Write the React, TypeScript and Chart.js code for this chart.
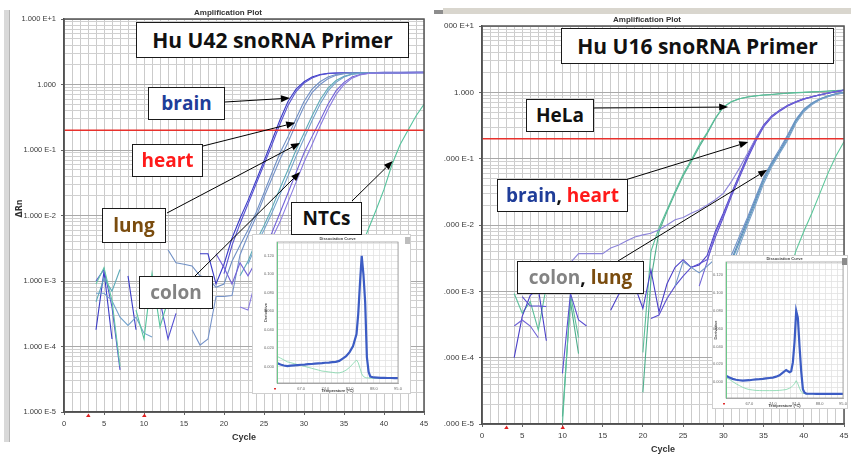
import React, { useEffect, useRef } from 'react';
import { Chart, registerables } from 'chart.js';

Chart.register(...registerables);
Chart.defaults.font.family = '"Liberation Sans", Arial, sans-serif';

const N = null;

// ---------- cycles & axis labels ----------
const cycles = [1,2,3,4,5,6,7,8,9,10,11,12,13,14,15,16,17,18,19,20,21,22,23,24,25,26,27,28,29,30,31,32,33,34,35,36,37,38,39,40,41,42,43,44,45];
const xTickLabels = [0,5,10,15,20,25,30,35,40,45];
const yDecades = [1e-5,1e-4,1e-3,1e-2,1e-1,1,10];
const yDecadeLabels = ['1.000 E-5','1.000 E-4','1.000 E-3','1.000 E-2','1.000 E-1','1.000','1.000 E+1'];
const logMultipliers = [1,2,3,4,5,6,7,8,9];
const baselineCycles = [3, 10];

// ---------- Hu U42 snoRNA primer (left) ----------
const u42Threshold = 0.2;
const u42Brain1 = [N,N,N,0.00018,0.0014,0.00013,N,0.0012,0.00018,N,N,N,N,N,N,N,0.0026,0.0026,0.0009,0.0018,0.0045,0.009,0.017,0.034,0.068,0.14,0.29,0.55,0.85,1.1,1.3,1.42,1.48,1.5,1.51,1.51,1.52,1.52,1.52,1.53,1.53,1.53,1.53,1.53,1.54];
const u42Brain2 = [N,N,N,0.001,0.0015,0.0004,0.000044,N,N,N,N,0.0005,0.00013,0.00032,N,N,N,N,N,0.0013,0.0035,0.0075,0.015,0.03,0.06,0.12,0.25,0.48,0.78,1.05,1.26,1.4,1.47,1.49,1.5,1.5,1.51,1.51,1.51,1.52,1.52,1.52,1.52,1.53,1.53];
const u42Heart1 = [N,N,N,N,N,N,N,N,N,N,N,N,0.003,0.0019,0.0018,0.0017,0.0012,0.0011,0.0008,0.0009,0.002,0.0035,0.006,0.011,0.022,0.045,0.09,0.16,0.3,0.55,0.85,1.1,1.3,1.42,1.48,1.5,1.5,1.51,1.51,1.52,1.52,1.52,1.53,1.53,1.53];
const u42Heart2 = [N,N,N,N,N,N,N,N,N,N,N,N,N,N,N,0.00018,0.000105,0.00013,0.00058,0.00058,0.0006,0.0025,0.005,0.0095,0.019,0.037,0.072,0.13,0.25,0.46,0.75,1.0,1.22,1.38,1.46,1.49,1.5,1.5,1.51,1.51,1.51,1.52,1.52,1.52,1.53];
const u42Lung1 = [N,N,N,0.00048,0.0011,0.0007,0.0015,N,N,N,N,N,N,N,N,N,N,N,N,N,N,0.0012,0.002,0.004,0.007,0.013,0.026,0.05,0.1,0.18,0.33,0.58,0.88,1.15,1.33,1.44,1.49,1.5,1.5,1.5,1.51,1.51,1.51,1.52,1.52];
const u42Lung2 = [N,N,N,0.00065,0.00065,0.0005,0.00028,0.00021,0.00028,0.00016,0.00014,N,N,N,N,N,N,N,N,N,N,N,0.0018,0.0035,0.006,0.011,0.021,0.04,0.08,0.15,0.28,0.5,0.8,1.08,1.3,1.43,1.48,1.5,1.5,1.5,1.5,1.51,1.51,1.51,1.52];
const u42Colon1 = [N,N,N,N,N,N,N,N,N,N,N,N,N,N,N,N,N,N,0.0026,0.0016,0.0009,0.0019,0.0012,0.002,0.003,0.0055,0.011,0.022,0.045,0.09,0.16,0.28,0.5,0.8,1.08,1.3,1.42,1.48,1.5,1.5,1.5,1.5,1.51,1.51,1.51];
const u42Colon2 = [N,N,N,N,N,N,N,N,N,N,N,N,N,N,N,N,N,N,N,N,N,0.0004,0.00036,0.0011,0.0025,0.0045,0.008,0.016,0.032,0.065,0.12,0.23,0.42,0.7,1.0,1.25,1.4,1.47,1.49,1.5,1.5,1.5,1.5,1.51,1.51];
const u42Ntc1 = [N,N,N,N,N,N,N,N,0.00036,0.00013,0.0013,0.0002,0.0005,N,N,N,N,N,N,N,N,N,N,N,N,N,N,N,N,N,N,N,N,N,N,0.0015,0.003,0.006,0.012,0.025,0.06,0.12,0.2,0.33,0.5];
const u42Ntc2 = [N,N,N,0.0009,0.0016,0.0005,0.00005,N,N,N,N,N,N,N,N,N,N,N,N,N,N,N,N,N,N,N,N,N,N,N,N,N,N,N,N,N,N,N,N,N,N,N,N,N,N];

// ---------- Hu U16 snoRNA primer (right) ----------
const u16Threshold = 0.2;
const u16Hela1 = [N,N,N,N,N,N,N,N,N,0.000013,0.0007,0.000115,N,N,N,N,N,N,N,0.00003,0.0015,0.008,0.016,0.03,0.055,0.09,0.15,0.24,0.4,0.6,0.72,0.8,0.85,0.88,0.91,0.93,0.95,0.97,0.99,1.0,1.02,1.03,1.05,1.06,1.07];
const u16Hela2 = [N,N,N,0.00093,0.00047,0.0007,0.00026,0.0012,N,0.00001,0.0009,0.0002,N,N,N,N,N,N,N,0.00012,0.004,0.009,0.017,0.032,0.058,0.095,0.16,0.25,0.41,0.6,0.72,0.8,0.85,0.89,0.91,0.93,0.95,0.97,0.99,1.0,1.01,1.03,1.04,1.06,1.07];
const u16Brain1 = [N,N,N,0.0001,0.00042,0.00087,0.0011,0.00018,N,N,N,N,N,N,N,0.00052,0.0009,0.0012,0.0012,0.00055,0.0021,0.00049,0.0013,0.0023,0.003,0.0023,0.0025,0.0035,0.008,0.015,0.03,0.058,0.11,0.2,0.32,0.44,0.54,0.64,0.72,0.8,0.86,0.92,0.98,1.03,1.08];
const u16Brain2 = [N,N,N,N,N,N,N,N,N,N,0.0027,0.0037,0.0037,0.0037,0.0037,0.0045,0.005,0.0058,0.0066,0.0071,0.0075,0.0085,0.01,0.012,0.013,0.015,0.017,0.02,0.024,0.03,0.045,0.072,0.12,0.2,0.31,0.43,0.53,0.63,0.71,0.79,0.86,0.92,0.97,1.03,1.08];
const u16Heart1 = [N,N,N,N,0.00083,0.0006,0.0006,0.00059,N,0.000058,0.00093,0.00037,0.0003,N,N,N,N,N,N,N,0.00039,0.00044,0.00078,0.0012,0.0017,0.0023,0.0026,0.003,0.0065,0.013,0.027,0.052,0.1,0.18,0.3,0.42,0.52,0.62,0.71,0.79,0.85,0.91,0.97,1.02,1.07];
const u16Heart2 = [N,N,N,0.0003,0.00037,0.0003,0.0002,N,N,N,N,N,N,N,N,N,N,N,N,N,N,N,N,N,N,N,0.0012,0.0028,0.0075,0.014,0.029,0.055,0.105,0.19,0.31,0.43,0.53,0.63,0.72,0.8,0.86,0.92,0.97,1.03,1.08];
const u16Colon1 = [N,N,N,N,N,N,N,N,N,N,N,N,N,N,N,N,N,N,N,N,N,N,N,N,N,N,N,N,0.0012,0.0018,0.003,0.006,0.012,0.024,0.05,0.085,0.13,0.22,0.38,0.55,0.68,0.79,0.88,0.95,1.0];
const u16Colon2 = [N,N,N,N,N,N,N,N,N,N,N,N,N,N,N,N,N,N,N,N,N,N,N,0.0012,0.0028,0.0023,0.0019,0.0024,0.0031,0.0022,0.0035,0.0068,0.013,0.026,0.052,0.088,0.14,0.23,0.39,0.56,0.69,0.8,0.88,0.95,1.0];
const u16Lung1 = [N,N,N,N,N,N,N,N,N,N,N,N,N,N,N,N,N,N,N,N,N,N,N,N,N,N,N,N,N,0.0015,0.0028,0.0055,0.011,0.022,0.046,0.08,0.125,0.2,0.36,0.53,0.67,0.78,0.87,0.94,0.99];
const u16Lung2 = [N,N,N,N,N,N,N,N,N,N,N,N,N,N,N,N,N,N,N,N,N,N,N,N,N,N,N,N,N,N,0.0022,0.0048,0.01,0.02,0.042,0.075,0.12,0.19,0.34,0.51,0.65,0.77,0.86,0.93,0.98];
const u16Ntc = [N,N,N,N,N,N,N,N,N,N,N,N,N,N,N,N,N,N,N,N,N,N,N,N,N,N,N,N,N,N,N,N,N,N,N,N,N,0.0015,0.004,0.008,0.015,0.03,0.06,0.11,0.18];

// ---------- dissociation (melt) curves ----------
const meltTempsU42 = [60,61,62,63,64,65,66,67,68,69,70,71,72,73,74,75,76,77,78,79,80,81,82,83,83.5,84,84.5,85,85.5,86,86.5,87,88,89,90,91,92,93,94,95];
const meltU42Sample = [0.0036,0.002,0.001,0.0003,0.0008,0.0012,0.0015,0.0018,0.002,0.0024,0.0026,0.003,0.0033,0.0036,0.004,0.0042,0.0046,0.005,0.006,0.0085,0.011,0.0155,0.022,0.035,0.057,0.09,0.12,0.1,0.07,0.01,-0.006,-0.011,-0.012,-0.0122,-0.0124,-0.0125,-0.0126,-0.0126,-0.0127,-0.0128];
const meltU42Ntc = [0.011,0.009,0.007,0.005,0.004,0.003,0.002,0.001,0,-0.001,-0.002,-0.003,-0.004,-0.005,-0.0055,-0.006,-0.0065,-0.007,-0.007,-0.006,-0.004,-0.001,0.003,0.007,0.004,-0.002,-0.008,-0.011,-0.012,-0.0125,-0.0125,-0.0127,-0.0128,-0.0128,-0.0128,-0.0128,-0.0128,-0.0128,-0.0128,-0.0128];
const meltTempsU16 = [60,61,62,63,64,65,66,67,68,69,70,71,72,73,74,75,76,77,78,79,79.5,80,80.5,81,81.5,82,82.5,83,83.5,84,85,86,87,88,89,90,91,92,93,94,95];
const meltU16Sample = [0.007,0.005,0.0035,0.0025,0.002,0.0015,0.0018,0.002,0.0025,0.003,0.0032,0.0035,0.004,0.0045,0.005,0.006,0.0075,0.0105,0.0135,0.011,0.012,0.022,0.045,0.08,0.072,0.04,0.012,-0.008,-0.012,-0.013,-0.0132,-0.0132,-0.0133,-0.0133,-0.0133,-0.0133,-0.0134,-0.0134,-0.0134,-0.0134,-0.0134];
const meltU16Ntc = [0.005,0.003,0.0005,-0.002,-0.004,-0.006,-0.0075,-0.0085,-0.009,-0.0095,-0.0096,-0.0097,-0.0097,-0.0097,-0.0097,-0.0096,-0.0094,-0.009,-0.0085,-0.007,-0.006,-0.004,-0.002,0.0015,-0.002,-0.007,-0.011,-0.0128,-0.013,-0.0133,-0.0134,-0.0134,-0.0134,-0.0134,-0.0134,-0.0134,-0.0134,-0.0134,-0.0134,-0.0134,-0.0134];
const meltXLabels = [67,74,81,88,95];
const meltYLabels = [0,0.02,0.04,0.06,0.08,0.1,0.12];

// ---------- series tables ----------
type Series = { values: (number | null)[]; color: string };
const u42Series: Series[] = [
  { values: u42Ntc1, color: '#55c39c' },
  { values: u42Ntc2, color: '#62c8a6' },
  { values: u42Colon2, color: '#8a7ce0' },
  { values: u42Colon1, color: '#7262d8' },
  { values: u42Lung2, color: '#73a2cc' },
  { values: u42Lung1, color: '#5eaab8' },
  { values: u42Heart2, color: '#7592c8' },
  { values: u42Heart1, color: '#6f8fc4' },
  { values: u42Brain2, color: '#5550d2' },
  { values: u42Brain1, color: '#3a3ac6' },
];
const u16Series: Series[] = [
  { values: u16Ntc, color: '#5cc79a' },
  { values: u16Lung2, color: '#7aa0cc' },
  { values: u16Lung1, color: '#5d9ab8' },
  { values: u16Colon2, color: '#6f95c8' },
  { values: u16Colon1, color: '#5f86c0' },
  { values: u16Heart2, color: '#6f62d6' },
  { values: u16Heart1, color: '#5a4ed0' },
  { values: u16Brain2, color: '#8c84da' },
  { values: u16Brain1, color: '#4a3fc8' },
  { values: u16Hela2, color: '#5cbf9a' },
  { values: u16Hela1, color: '#4fae8c' },
];

// ---------- annotations ----------
type Part = { text: string; color: string };
type Box = { left: number; top: number; width: number; height: number; size: number; parts: Part[] };
type ArrowDef = { from: [number, number]; to: [number, number] };

const BLUE = '#1f3d99', RED = '#ff1a1a', BROWN = '#7a4c0e', GREY = '#838383', BLACK = '#111';

const u42Boxes: Box[] = [
  { left: 136, top: 22, width: 273, height: 36, size: 21, parts: [{ text: 'Hu U42 snoRNA Primer', color: BLACK }] },
  { left: 148, top: 87, width: 77, height: 33, size: 19, parts: [{ text: 'brain', color: BLUE }] },
  { left: 132, top: 144, width: 71, height: 33, size: 19, parts: [{ text: 'heart', color: RED }] },
  { left: 102, top: 208, width: 64, height: 35, size: 19, parts: [{ text: 'lung', color: BROWN }] },
  { left: 139, top: 276, width: 74, height: 33, size: 19, parts: [{ text: 'colon', color: GREY }] },
  { left: 291, top: 202, width: 71, height: 33, size: 19, parts: [{ text: 'NTCs', color: BLACK }] },
];
const u42Arrows: ArrowDef[] = [
  { from: [225, 102], to: [28.25, 0.62] },
  { from: [203, 146], to: [28.9, 0.26] },
  { from: [167, 213], to: [29.5, 0.128] },
  { from: [195, 276], to: [29.5, 0.046] },
  { from: [352, 201], to: [41.1, 0.068] },
];
const u16Boxes: Box[] = [
  { left: 561, top: 28, width: 273, height: 36, size: 21, parts: [{ text: 'Hu U16 snoRNA Primer', color: BLACK }] },
  { left: 526, top: 99, width: 68, height: 33, size: 19, parts: [{ text: 'HeLa', color: BLACK }] },
  { left: 497, top: 179, width: 131, height: 33, size: 19, parts: [{ text: 'brain', color: BLUE }, { text: ', ', color: BLACK }, { text: 'heart', color: RED }] },
  { left: 517, top: 261, width: 127, height: 33, size: 19, parts: [{ text: 'colon', color: GREY }, { text: ', ', color: BLACK }, { text: 'lung', color: BROWN }] },
];
const u16Arrows: ArrowDef[] = [
  { from: [594, 108], to: [30.6, 0.6] },
  { from: [625, 180], to: [33.1, 0.178] },
  { from: [618, 261], to: [35.45, 0.068] },
];

// ---------- geometry ----------
type MainGeom = { canvasLeft: number; width: number; height: number; padTop: number; padRight: number; yAxisWidth: number; xAxisHeight: number; tickSize: number };
const u42Geom: MainGeom = { canvasLeft: 0, width: 430, height: 454, padTop: 19, padRight: 6, yAxisWidth: 64, xAxisHeight: 42, tickSize: 7.5 };
const u16Geom: MainGeom = { canvasLeft: 444, width: 407, height: 454, padTop: 26, padRight: 7, yAxisWidth: 38, xAxisHeight: 30, tickSize: 8 };

type InsetGeom = { left: number; top: number; width: number; height: number; padTop: number; padRight: number; yAxisWidth: number; xAxisHeight: number };
const u42InsetGeom: InsetGeom = { left: 253, top: 235, width: 157, height: 158, padTop: 7, padRight: 12, yAxisWidth: 24, xAxisHeight: 10 };
const u16InsetGeom: InsetGeom = { left: 713, top: 256, width: 134, height: 152, padTop: 6, padRight: 4, yAxisWidth: 13, xAxisHeight: 10 };

const isDecade = (v: number) => yDecades.some((d) => Math.abs(v - d) < d * 1e-6);
const near = (arr: number[], v: number) => arr.some((a) => Math.abs(a - v) < 1e-6);

function makeMainChart(canvas: HTMLCanvasElement, series: Series[], threshold: number, geom: MainGeom, arrows: ArrowDef[]) {
  const yGrid: number[] = [];
  yDecades.slice(0, -1).forEach((d) => logMultipliers.forEach((m) => yGrid.push(m * d)));
  yGrid.push(yDecades[yDecades.length - 1]);
  const xGrid = [0, ...cycles];

  const datasets: any[] = series.map((s) => ({
    data: s.values.map((v, i) => ({ x: cycles[i], y: v })),
    borderColor: s.color,
    borderWidth: 1.1,
    pointRadius: 0,
    tension: 0,
    spanGaps: false,
  }));
  datasets.push({
    data: [{ x: 0, y: threshold }, { x: 45, y: threshold }],
    borderColor: '#e8312c',
    borderWidth: 1.6,
    pointRadius: 0,
    order: -1,
  });

  const decor = {
    id: 'decor',
    afterDraw(chart: any) {
      const { ctx, chartArea: a, scales } = chart;
      const xs = scales.x, ys = scales.y;
      ctx.save();
      ctx.strokeStyle = '#555';
      ctx.lineWidth = 1.5;
      ctx.strokeRect(a.left, a.top, a.right - a.left, a.bottom - a.top);
      // baseline markers
      ctx.fillStyle = '#e02020';
      baselineCycles.forEach((c) => {
        const px = xs.getPixelForValue(c);
        ctx.beginPath();
        ctx.moveTo(px - 2, a.bottom + 5);
        ctx.lineTo(px + 2.5, a.bottom + 5);
        ctx.lineTo(px + 0.5, a.bottom + 1.5);
        ctx.closePath();
        ctx.fill();
      });
      // titles
      const cx = (a.left + a.right) / 2;
      ctx.fillStyle = '#333';
      ctx.textAlign = 'center';
      ctx.textBaseline = 'middle';
      ctx.font = 'bold 8px "Liberation Sans", Arial, sans-serif';
      ctx.fillText('Amplification Plot', cx - 16, a.top - 6);
      ctx.font = 'bold 9px "Liberation Sans", Arial, sans-serif';
      ctx.fillText('Cycle', cx, a.bottom + 26);
      ctx.save();
      ctx.translate(a.left - 44, (a.top + a.bottom) / 2 - 7);
      ctx.rotate(-Math.PI / 2);
      ctx.font = 'bold 8px "DejaVu Sans", sans-serif';
      ctx.fillText('\u0394Rn', 0, 0);
      ctx.restore();
      // arrows
      ctx.strokeStyle = '#000';
      ctx.fillStyle = '#000';
      ctx.lineWidth = 1;
      arrows.forEach((ar) => {
        const tx = xs.getPixelForValue(ar.to[0]);
        const ty = ys.getPixelForValue(ar.to[1]);
        const sx = ar.from[0] - geom.canvasLeft;
        const sy = ar.from[1];
        const ang = Math.atan2(ty - sy, tx - sx);
        const hl = 9, hw = 3.5;
        const bx = tx - hl * Math.cos(ang), by = ty - hl * Math.sin(ang);
        ctx.beginPath();
        ctx.moveTo(sx, sy);
        ctx.lineTo(bx, by);
        ctx.stroke();
        ctx.beginPath();
        ctx.moveTo(tx, ty);
        ctx.lineTo(bx + hw * Math.sin(ang), by - hw * Math.cos(ang));
        ctx.lineTo(bx - hw * Math.sin(ang), by + hw * Math.cos(ang));
        ctx.closePath();
        ctx.fill();
      });
      ctx.restore();
    },
  };

  const tickFont = { family: '"Liberation Sans", Arial, sans-serif', size: geom.tickSize };
  return new Chart(canvas, {
    type: 'line',
    data: { datasets },
    options: {
      animation: false,
      responsive: false,
      maintainAspectRatio: false,
      events: [],
      layout: { padding: { top: geom.padTop, right: geom.padRight, left: 0, bottom: 0 } },
      plugins: { legend: { display: false }, tooltip: { enabled: false }, title: { display: false } },
      scales: {
        x: {
          type: 'linear',
          min: 0,
          max: 45,
          afterBuildTicks: (s: any) => { s.ticks = xGrid.map((v) => ({ value: v })); },
          afterFit: (s: any) => { s.height = geom.xAxisHeight; s.paddingLeft = 0; s.paddingRight = 0; },
          ticks: {
            autoSkip: false, maxRotation: 0, minRotation: 0, padding: 4, font: tickFont, color: '#3a3a3a',
            callback: (v: any) => (xTickLabels.includes(Number(v)) ? String(v) : ''),
          },
          grid: {
            color: '#cbcbcb', lineWidth: 1, tickLength: 3,
            tickColor: (c: any) => (c.tick && xTickLabels.includes(c.tick.value) ? '#666' : 'rgba(0,0,0,0)'),
          },
          border: { display: true, color: '#444', width: 1.5 },
        },
        y: {
          type: 'logarithmic',
          min: yDecades[0],
          max: yDecades[yDecades.length - 1],
          afterBuildTicks: (s: any) => { s.ticks = yGrid.map((v) => ({ value: v })); },
          afterFit: (s: any) => { s.width = geom.yAxisWidth; s.paddingTop = 0; s.paddingBottom = 0; },
          ticks: {
            autoSkip: false, padding: 5, font: tickFont, color: '#3a3a3a',
            callback: (v: any) => {
              const i = yDecades.findIndex((d) => Math.abs(Number(v) - d) < d * 1e-6);
              return i >= 0 ? yDecadeLabels[i] : '';
            },
          },
          grid: {
            lineWidth: 1, tickLength: 3,
            color: (c: any) => (c.tick && isDecade(c.tick.value) ? '#a9a9a9' : '#d0d0d0'),
            tickColor: (c: any) => (c.tick && isDecade(c.tick.value) ? '#666' : 'rgba(0,0,0,0)'),
          },
          border: { display: true, color: '#444', width: 1.5 },
        },
      },
    } as any,
    plugins: [decor],
  });
}

function makeInsetChart(canvas: HTMLCanvasElement, temps: number[], sample: number[], ntc: number[], geom: InsetGeom) {
  const xGrid: number[] = [];
  for (let i = 0; i <= 20; i++) xGrid.push(60 + i * 1.75);
  const yGrid: number[] = [];
  for (let i = -2; i <= 20; i++) yGrid.push((i * 0.02) / 3);
  const tiny = { family: '"Liberation Sans", Arial, sans-serif', size: 4 };
  const decor = {
    id: 'insetDecor',
    afterDraw(chart: any) {
      const { ctx, chartArea: a } = chart;
      ctx.save();
      ctx.strokeStyle = '#9a9a9a';
      ctx.lineWidth = 0.8;
      ctx.strokeRect(a.left, a.top, a.right - a.left, a.bottom - a.top);
      ctx.strokeStyle = '#6cc98a';
      ctx.lineWidth = 1;
      ctx.beginPath();
      ctx.moveTo(a.left + 0.5, a.top);
      ctx.lineTo(a.left + 0.5, a.bottom);
      ctx.stroke();
      ctx.fillStyle = '#444';
      ctx.textAlign = 'center';
      ctx.textBaseline = 'middle';
      ctx.font = 'bold 4px "Liberation Sans", Arial, sans-serif';
      ctx.fillText('Dissociation Curve', (a.left + a.right) / 2, a.top - 3);
      ctx.fillText('Temperature (\u00b0C)', (a.left + a.right) / 2, a.bottom + 8);
      ctx.save();
      ctx.translate(Math.max(a.left - 11, 3), (a.top + a.bottom) / 2);
      ctx.rotate(-Math.PI / 2);
      ctx.fillText('Derivative', 0, 0);
      ctx.restore();
      ctx.fillStyle = '#e03030';
      ctx.fillRect(a.left - 3, a.bottom + 5, 2, 1.5);
      ctx.restore();
    },
  };
  return new Chart(canvas, {
    type: 'line',
    data: {
      datasets: [
        { data: temps.map((t, i) => ({ x: t, y: ntc[i] })), borderColor: '#7dd6a8', borderWidth: 0.8, pointRadius: 0 },
        { data: temps.map((t, i) => ({ x: t, y: sample[i] })), borderColor: '#3c5cc4', borderWidth: 2.2, pointRadius: 0, order: -1 },
      ],
    },
    options: {
      animation: false,
      responsive: false,
      maintainAspectRatio: false,
      events: [],
      layout: { padding: { top: geom.padTop, right: geom.padRight, left: 0, bottom: 0 } },
      plugins: { legend: { display: false }, tooltip: { enabled: false } },
      scales: {
        x: {
          type: 'linear', min: 60, max: 95,
          afterBuildTicks: (s: any) => { s.ticks = xGrid.map((v) => ({ value: v })); },
          afterFit: (s: any) => { s.height = geom.xAxisHeight; s.paddingLeft = 0; s.paddingRight = 0; },
          ticks: { autoSkip: false, maxRotation: 0, padding: 1, font: tiny, color: '#666', callback: (v: any) => (near(meltXLabels, Number(v)) ? Number(v).toFixed(1) : '') },
          grid: { color: '#e2e2e2', lineWidth: 0.8, tickLength: 2, tickColor: 'rgba(0,0,0,0)' },
          border: { display: true, color: '#999', width: 0.8 },
        },
        y: {
          type: 'linear', min: -0.018, max: 0.135,
          afterBuildTicks: (s: any) => { s.ticks = yGrid.map((v) => ({ value: v })); },
          afterFit: (s: any) => { s.width = geom.yAxisWidth; s.paddingTop = 0; s.paddingBottom = 0; },
          ticks: { autoSkip: false, padding: 1, font: tiny, color: '#666', callback: (v: any) => (near(meltYLabels, Number(v)) ? Number(v).toFixed(3) : '') },
          grid: { color: '#e2e2e2', lineWidth: 0.8, tickLength: 2, tickColor: 'rgba(0,0,0,0)' },
          border: { display: true, color: '#6cc98a', width: 1 },
        },
      },
    } as any,
    plugins: [decor],
  });
}

function LabelBox({ box }: { box: Box }) {
  return (
    <div
      style={{
        position: 'absolute', left: box.left, top: box.top, width: box.width, height: box.height,
        boxSizing: 'border-box', border: '1px solid #1a1a1a', background: '#fff',
        display: 'flex', alignItems: 'center', justifyContent: 'center',
        fontFamily: '"Open Sans", "DejaVu Sans", sans-serif', fontWeight: 700, fontSize: box.size,
        whiteSpace: 'nowrap', lineHeight: 1, zIndex: 3,
      }}
    >
      {box.parts.map((p, i) => (
        <span key={i} style={{ color: p.color, whiteSpace: 'pre' }}>{p.text}</span>
      ))}
    </div>
  );
}

export default function App() {
  const leftRef = useRef<HTMLCanvasElement>(null);
  const rightRef = useRef<HTMLCanvasElement>(null);
  const leftInsetRef = useRef<HTMLCanvasElement>(null);
  const rightInsetRef = useRef<HTMLCanvasElement>(null);

  useEffect(() => {
    const charts: Chart[] = [];
    if (leftRef.current) charts.push(makeMainChart(leftRef.current, u42Series, u42Threshold, u42Geom, u42Arrows));
    if (rightRef.current) charts.push(makeMainChart(rightRef.current, u16Series, u16Threshold, u16Geom, u16Arrows));
    if (leftInsetRef.current) charts.push(makeInsetChart(leftInsetRef.current, meltTempsU42, meltU42Sample, meltU42Ntc, u42InsetGeom));
    if (rightInsetRef.current) charts.push(makeInsetChart(rightInsetRef.current, meltTempsU16, meltU16Sample, meltU16Ntc, u16InsetGeom));
    return () => charts.forEach((c) => c.destroy());
  }, []);

  const insetPanel = (g: InsetGeom, ref: React.RefObject<HTMLCanvasElement>, scrollDark: boolean) => (
    <div style={{ position: 'absolute', left: g.left, top: g.top, width: g.width, height: g.height, background: '#fff', boxShadow: '0 0 0 1px #cfcfcf', zIndex: 2 }}>
      <canvas ref={ref} width={g.width} height={g.height} style={{ position: 'absolute', left: 0, top: 0, width: g.width, height: g.height }} />
      <div style={{ position: 'absolute', right: 0, top: 2, width: 5, height: 7, background: scrollDark ? '#8a8a8a' : '#bdbdbd' }} />
    </div>
  );

  return (
    <div style={{ position: 'absolute', left: 0, top: 0, width: 851, height: 454, background: '#fff', overflow: 'hidden' }}>
      <div style={{ position: 'absolute', left: 4, top: 10, width: 5, height: 432, background: '#d9d9d9', borderRight: '1px solid #b5b5b5' }} />
      <div style={{ position: 'absolute', left: 443, top: 8, width: 408, height: 6, background: '#d9d6ce' }} />
      <div style={{ position: 'absolute', left: 434, top: 10, width: 9, height: 4, background: '#8d8d8d' }} />
      <canvas ref={leftRef} width={u42Geom.width} height={u42Geom.height}
        style={{ position: 'absolute', left: u42Geom.canvasLeft, top: 0, width: u42Geom.width, height: u42Geom.height }} />
      <canvas ref={rightRef} width={u16Geom.width} height={u16Geom.height}
        style={{ position: 'absolute', left: u16Geom.canvasLeft, top: 0, width: u16Geom.width, height: u16Geom.height, zIndex: 1 }} />
      {insetPanel(u42InsetGeom, leftInsetRef, false)}
      {insetPanel(u16InsetGeom, rightInsetRef, true)}
      {u42Boxes.map((b, i) => <LabelBox key={'l' + i} box={b} />)}
      {u16Boxes.map((b, i) => <LabelBox key={'r' + i} box={b} />)}
    </div>
  );
}
